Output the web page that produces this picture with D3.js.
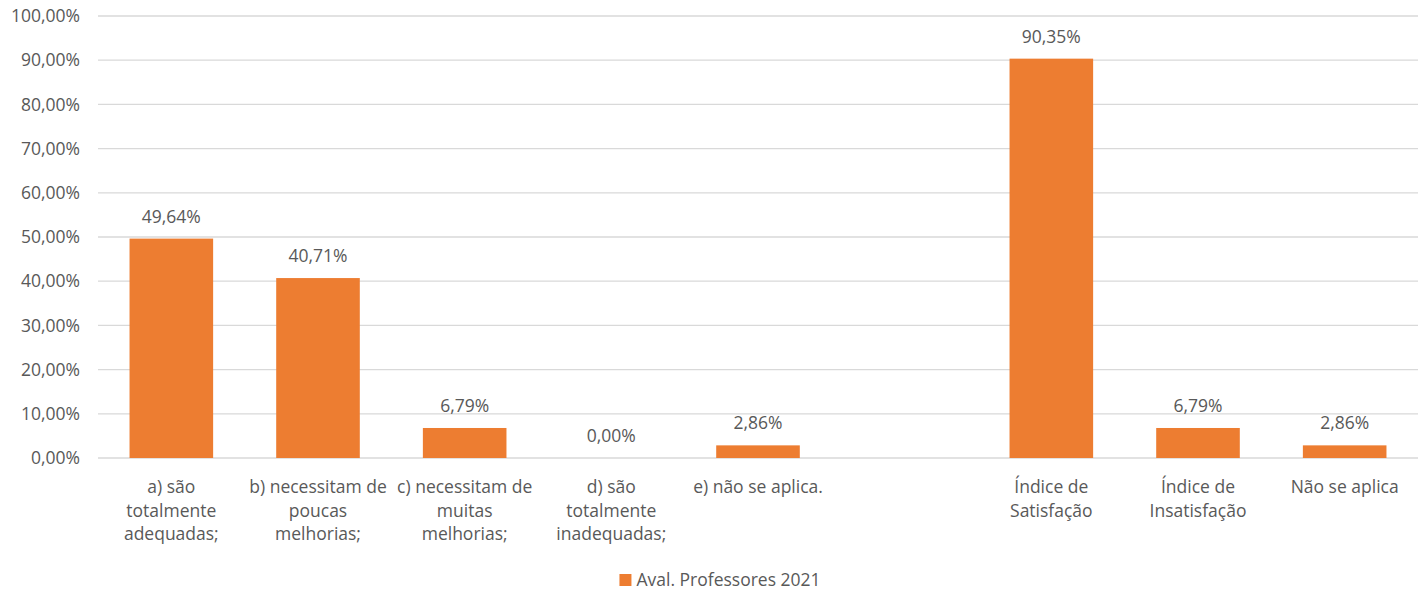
<!DOCTYPE html>
<html><head><meta charset="utf-8">
<script src="https://cdn.jsdelivr.net/npm/d3@7"></script>
<style>body{margin:0;background:#fff}svg{display:block}text{font-family:"Open Sans","Liberation Sans",sans-serif;fill:#595959}</style>
</head><body><svg id="c" width="1427" height="594"></svg>
<script>
const categories = [
  ["a) são","totalmente","adequadas;"],
  ["b) necessitam de","poucas","melhorias;"],
  ["c) necessitam de","muitas","melhorias;"],
  ["d) são","totalmente","inadequadas;"],
  ["e) não se aplica."],
  [],
  ["Índice de","Satisfação"],
  ["Índice de","Insatisfação"],
  ["Não se aplica"]
];
const values = [49.64, 40.71, 6.79, 0.00, 2.86, null, 90.35, 6.79, 2.86];
const yTicks = [0,10,20,30,40,50,60,70,80,90,100];
const seriesName = "Aval. Professores 2021";

const fmt = v => v.toFixed(2).replace(".", ",") + "%";
const svg = d3.select("#c");
const m = {l:98, r:1418, t:16, b:458};
const idx = categories.map((_, i) => i);
const x = d3.scaleBand().domain(idx).range([m.l, m.r]).paddingInner(0.43).paddingOuter(0.215);
const y = d3.scaleLinear().domain([0, 100]).range([m.b, m.t]);
const fs = 17.5;

// gridlines
svg.append("g").selectAll("line").data(yTicks).join("line")
  .attr("x1", m.l).attr("x2", m.r).attr("y1", d => y(d)).attr("y2", d => y(d))
  .attr("stroke", "#d9d9d9").attr("stroke-width", 1.3);

// y axis labels
const yAxis = d3.axisLeft(y).tickValues(yTicks).tickFormat(fmt).tickSize(0).tickPadding(18);
const ga = svg.append("g").attr("transform", `translate(${m.l},0)`).call(yAxis);
ga.select(".domain").remove();
ga.selectAll("text").attr("font-size", fs).attr("fill", "#595959").style("font-family", null);

// bars
const data = idx.map(i => ({i, v: values[i]})).filter(d => d.v !== null);
svg.append("g").selectAll("rect").data(data).join("rect")
  .attr("x", d => x(d.i)).attr("width", x.bandwidth())
  .attr("y", d => y(d.v)).attr("height", d => y(0) - y(d.v))
  .attr("fill", "#ED7D31");

// value labels
svg.append("g").selectAll("text").data(data).join("text")
  .attr("x", d => x(d.i) + x.bandwidth()/2).attr("y", d => y(d.v) - 16)
  .attr("text-anchor", "middle").attr("font-size", fs).text(d => fmt(d.v));

// category labels
const cg = svg.append("g");
idx.forEach(i => {
  const t = cg.append("text").attr("x", x(i) + x.bandwidth()/2).attr("y", 493)
    .attr("text-anchor", "middle").attr("font-size", fs);
  categories[i].forEach((ln, k) => t.append("tspan").attr("x", x(i) + x.bandwidth()/2).attr("dy", k ? 23.5 : 0).text(ln));
});

// legend
const lg = svg.append("g");
lg.append("rect").attr("width", 12).attr("height", 12).attr("fill", "#ED7D31");
const lt = lg.append("text").attr("x", 17).attr("y", 11.5).attr("font-size", fs).text(seriesName);
const lw = 17 + lt.node().getComputedTextLength();
lg.attr("transform", `translate(${(m.l + m.r)/2 - lw/2 - 38},574)`);
</script></body></html>
